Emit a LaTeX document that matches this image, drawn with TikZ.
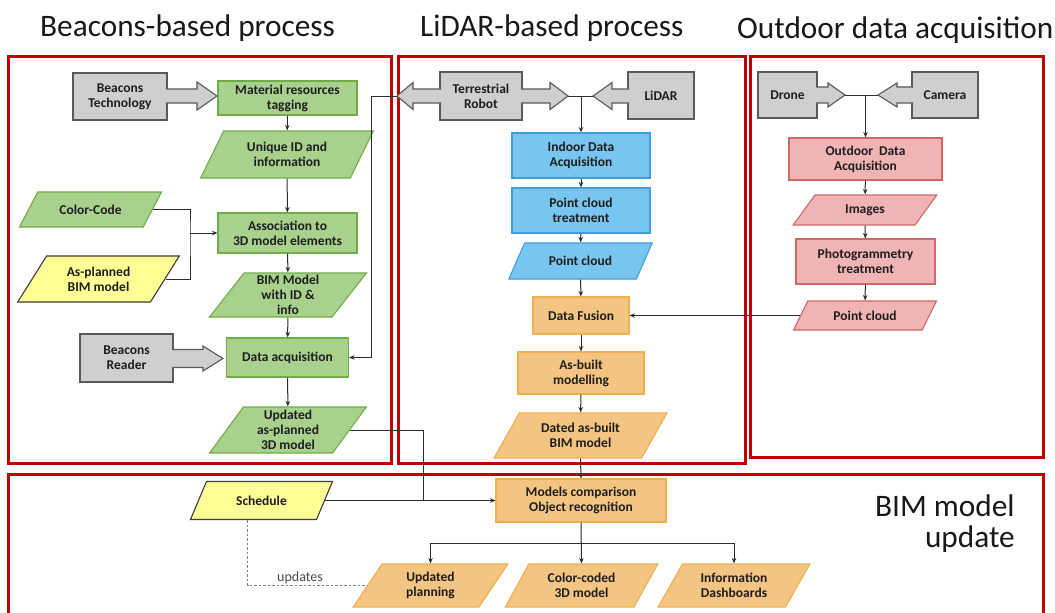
\documentclass[tikz,border=0pt]{standalone}
\usepackage{fontspec}
\setmainfont{Carlito}
\usetikzlibrary{shapes.geometric,arrows.meta,calc}
\definecolor{panelred}{RGB}{192,0,0}
\definecolor{gfill}{RGB}{169,209,142}
\definecolor{gline}{RGB}{112,173,71}
\definecolor{grfill}{RGB}{208,207,207}
\definecolor{grline}{RGB}{90,90,90}
\definecolor{bfill}{RGB}{120,198,240}
\definecolor{bline}{RGB}{60,160,220}
\definecolor{ofill}{RGB}{244,196,130}
\definecolor{oline}{RGB}{240,175,80}
\definecolor{pfill}{RGB}{240,180,180}
\definecolor{pline}{RGB}{205,105,105}
\definecolor{yfill}{RGB}{255,255,150}
\definecolor{yline}{RGB}{60,60,60}
\definecolor{txt}{RGB}{30,30,30}
\definecolor{conn}{RGB}{45,45,45}
\newcommand\nf{\bfseries\fontsize{13.5}{15}\selectfont}
\newcommand\titlef{\fontsize{31.3}{36}\selectfont}
\newcommand\grarrow[6]{%
  \fill[grfill] (#1,#4-#5) -- (#2,#4-#5) -- (#2,#4-#6) -- (#3,#4) -- (#2,#4+#6) -- (#2,#4+#5) -- (#1,#4+#5) -- cycle;
  \draw[grline,line width=1.1pt,line join=miter] (#1,#4-#5) -- (#2,#4-#5) -- (#2,#4-#6) -- (#3,#4) -- (#2,#4+#6) -- (#2,#4+#5) -- (#1,#4+#5);}
\tikzset{
  box/.style={rectangle, draw, line width=1.1pt, align=center, inner sep=1pt, font=\nf, text=txt},
  para/.style 2 args={trapezium, trapezium left angle=#1, trapezium right angle=#2,
    trapezium stretches=true, draw, line width=1.1pt, align=center, inner sep=0.5pt, font=\nf, text=txt},
  greenb/.style={fill=gfill, draw=gline},
  grayb/.style={fill=grfill, draw=grline},
  blueb/.style={fill=bfill, draw=bline},
  orangeb/.style={fill=ofill, draw=oline},
  pinkb/.style={fill=pfill, draw=pline},
  yellowb/.style={fill=yfill, draw=yline},
  line/.style={draw=conn, line width=1pt},
  arr/.style={line, -{Stealth[length=5.5pt,width=4.5pt]}},
  dashedl/.style={draw=gray, line width=1pt, dashed, dash pattern=on 2.5pt off 2pt},
  panel/.style={draw=panelred, line width=3pt},
  title/.style={font=\titlef, text=black!90, inner sep=0pt}
}
\begin{document}
\begin{tikzpicture}[x=1pt,y=-1pt]
\clip (0,0) rectangle (1055,613);
\fill[white] (0,0) rectangle (1055,613);

% titles
\node[title, anchor=base west] (t1) at (40,36) {Beacons-based process};
\node[title, anchor=base west] (t2) at (420,36) {LiDAR-based process};
\node[title, anchor=base west] (t3) at (737,38) {Outdoor data acquisition};
\node[title, anchor=base west] (t4) at (875,516) {BIM model};
\node[title, anchor=base east] (t5) at (1015,547) {update};

% panels
\draw[panel] (8,56) rectangle (391,463);
\draw[panel] (398,56) rectangle (745,463);
\draw[panel] (750,56) rectangle (1043,457);
\draw[panel] (8,474) rectangle (1043,640);

% ---------- left panel ----------
\node[box,grayb,minimum width=94,minimum height=47] (bt) at (120,96.5) {Beacons\\Technology};
\grarrow{166}{197}{217}{96}{7}{14}
\node[box,greenb,minimum width=139,minimum height=34] (mrt) at (287.5,98) {Material resources\\tagging};
\node[para={60}{120},greenb,minimum width=173,minimum height=47] (uid) at (287,154.5) {Unique ID and\\information};
\node[para={44}{136},greenb,minimum width=143,minimum height=35] (cc) at (90.5,209.5) {Color-Code};
\node[box,greenb,minimum width=139,minimum height=40] (as) at (287.5,233) {Association to\\3D model elements};
\node[para={55}{125},yellowb,minimum width=163,minimum height=46] (ap) at (98.5,279) {As-planned\\BIM model};
\node[para={58.5}{121.5},greenb,minimum width=157,minimum height=44] (bim) at (288,295) {BIM Model\\with ID \&\\info};
\node[box,grayb,minimum width=93,minimum height=48] (br) at (126.5,358) {Beacons\\Reader};
\grarrow{172}{203}{223}{358.5}{9}{12.5}
\node[box,greenb,minimum width=122,minimum height=39] (da) at (287.5,357.5) {Data acquisition};
\node[para={59.6}{120.4},greenb,minimum width=157,minimum height=46] (uap) at (288,430) {Updated\\as-planned\\3D model};

\draw[arr] (mrt) -- (uid);
\draw[arr] (uid) -- (as);
\coordinate (jc) at (190,233);
\draw[line] (cc.east) -| (jc) |- (ap.east);
\draw[arr] (jc) -- (as.west);
\draw[arr] (as) -- (bim);
\draw[arr] (bim) -- (da);
\draw[arr] (da) -- (uap);

% ---------- middle panel ----------
\node[box,grayb,minimum width=82,minimum height=48] (tr) at (481,96) {Terrestrial\\Robot};
\grarrow{441}{413}{397}{96}{7}{13.5}
\grarrow{521}{550}{568}{96}{7}{13.5}
\node[box,grayb,minimum width=66,minimum height=47] (li) at (661,95.5) {LiDAR};
\grarrow{629}{612}{593}{96}{7}{13.5}
\coordinate (trL) at (397,96);
\coordinate (trR) at (568,96);
\coordinate (liL) at (593,96);
\node[box,blueb,minimum width=138,minimum height=45] (ida) at (581,155.5) {Indoor Data\\Acquisition};
\node[box,blueb,minimum width=138,minimum height=45] (pct) at (581,210.5) {Point cloud\\treatment};
\node[para={49.3}{130.7},blueb,minimum width=144,minimum height=36] (pc1) at (580.5,261) {Point cloud};
\node[box,orangeb,minimum width=96,minimum height=37] (df) at (581,315.5) {Data Fusion};
\node[box,orangeb,minimum width=126,minimum height=42] (abm) at (581,373) {As-built\\modelling};
\node[para={57.2}{122.8},orangeb,minimum width=173,minimum height=45] (dab) at (580.5,435.5) {Dated as-built\\BIM model};

\draw[line] (trR) -- (liL);
\draw[arr] (ida.north |- trR) -- (ida.north);
\draw[arr] (trL) -| ($(da.east)+(22,0)$) -- (da.east);
\draw[arr] (ida) -- (pct);
\draw[arr] (pct) -- (pc1);
\draw[arr] (pc1) -- (df);
\draw[arr] (df) -- (abm);
\draw[arr] (abm) -- (dab);

% ---------- right panel ----------
\node[box,grayb,minimum width=59,minimum height=46] (dr) at (787.5,95) {Drone};
\grarrow{816}{828}{845}{95}{8}{12}
\node[box,grayb,minimum width=66,minimum height=46] (ca) at (945,95) {Camera};
\grarrow{913}{897}{878}{95}{8}{12}
\coordinate (drR) at (845,95);
\coordinate (caL) at (878,95);
\node[box,pinkb,minimum width=153,minimum height=42] (oda) at (865.5,159) {Outdoor~~Data\\Acquisition};
\node[para={53.7}{126.3},pinkb,minimum width=144,minimum height=30] (img) at (865,210) {Images};
\node[box,pinkb,minimum width=139,minimum height=45] (pht) at (865.5,261.5) {Photogrammetry\\treatment};
\node[para={52.8}{127.2},pinkb,minimum width=144,minimum height=29] (pc2) at (865,315.5) {Point cloud};

\draw[line] (drR) -- (caL);
\draw[arr] (oda.north |- drR) -- (oda.north);
\draw[arr] (oda) -- (img);
\draw[arr] (img) -- (pht);
\draw[arr] (pht) -- (pc2);
\draw[arr] (pc2.west) -- (pc2.west -| df.east);

% ---------- bottom panel ----------
\node[para={54.6}{125.4},yellowb,minimum width=143,minimum height=38] (sc) at (261.5,500.5) {Schedule};
\node[box,orangeb,minimum width=170,minimum height=43] (mc) at (581,500.5) {Models comparison\\Object recognition};
\node[para={61.9}{118.1},orangeb,minimum width=155,minimum height=43] (up) at (430.5,585.5) {Updated\\planning};
\node[para={58.8}{121.2},orangeb,minimum width=153,minimum height=43] (cc3) at (581.5,585.5) {Color-coded\\3D model};
\node[para={57.9}{122.1},orangeb,minimum width=152,minimum height=43] (id) at (734,585.5) {Information\\Dashboards};

\draw[line] (uap.east) -| ($(mc.west)+(-72,0)$);
\draw[arr] (sc.east) -- (sc.east -| mc.west);
\draw[arr] (dab.south) -- (mc.north);
\draw[arr] (mc.south) -- (cc3.north);
\coordinate (bj) at ($(mc.south)+(0,21)$);
\draw[arr] (bj) -| (up.north);
\draw[arr] (bj) -| (id.north);
\draw[dashedl] ($(sc.south)+(-14,0)$) |- (up.west)
  node[pos=0.72, anchor=south, inner sep=1.5pt, font=\fontsize{14}{16}\selectfont, text=black!70] (upd) {updates};
\end{tikzpicture}
\end{document}
